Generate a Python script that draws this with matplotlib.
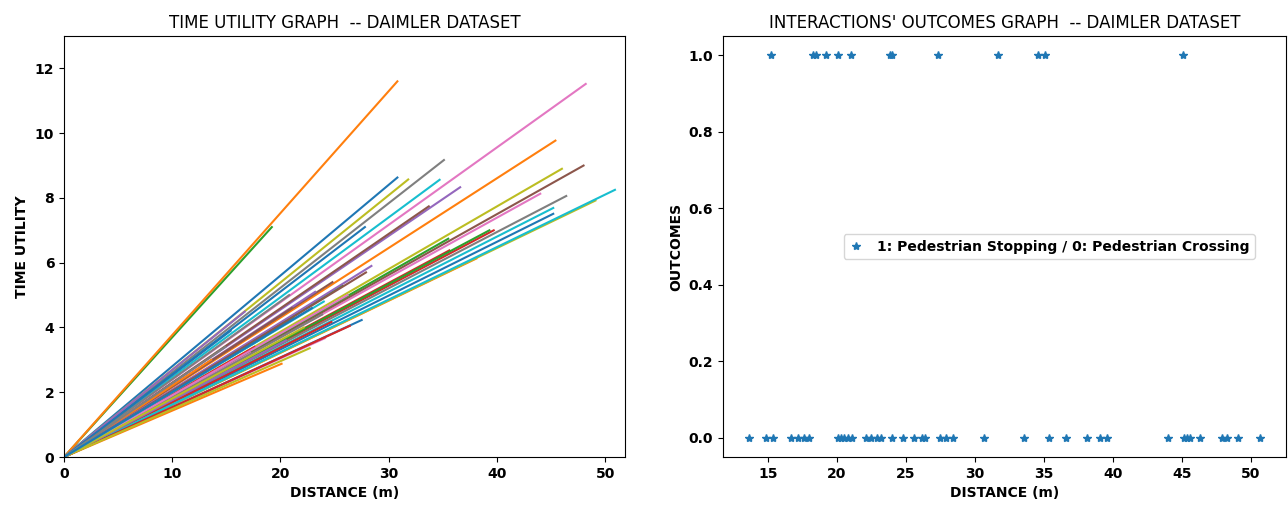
import matplotlib
matplotlib.use("Agg")
import matplotlib.pyplot as plt

# left panel: one line per interaction, from origin to (distance, time utility)
line_distance = [
    30.8, 45.4, 19.2, 39.7, 36.6, 33.7, 48.2, 35.1, 31.8, 34.7,
    27.8, 30.8, 25.7, 35.6, 16.7, 24.8, 44.0, 46.4, 46.0, 45.2,
    45.2, 38.1, 39.3, 24.7, 23.2, 48.0, 24.1, 20.8, 49.1, 50.9,
    27.5, 20.1, 35.5, 26.4, 20.5, 21.05, 17.2, 23.85, 22.7, 18.5,
    15.4, 13.6, 21.2, 17.6, 28.4, 27.9, 26.2, 14.9, 22.15, 24.0,
    22.9,
]
line_time_utility = [
    8.63, 9.77, 7.1, 7.0, 8.33, 7.74, 11.52, 9.17, 8.57, 8.56,
    7.1, 11.6, 5.3, 6.38, 4.49, 5.4, 8.13, 8.06, 8.9, 7.69,
    7.51, 6.13, 7.0, 4.17, 5.1, 9.0, 3.67, 5.0, 7.92, 8.25,
    4.23, 2.88, 6.74, 4.05, 3.6, 4.6, 3.2, 4.4, 3.36, 3.7,
    3.9, 3.0, 4.3, 3.4, 5.9, 5.7, 5.0, 3.4, 4.0, 4.8,
    4.6,
]

# right panel: outcome per interaction (1 = stopping, 0 = crossing)
crossing_distance = [
    13.6, 14.9, 15.4, 16.7, 17.2, 17.6, 17.95, 20.1, 20.3, 20.5, 20.8, 21.1,
    22.15, 22.5, 22.9, 23.2, 24.0, 24.8, 25.6, 26.2, 26.4, 27.5, 27.9, 28.4,
    30.7, 33.6, 35.4, 36.6, 38.1, 39.1, 39.6, 44.0, 45.2, 45.4, 45.6, 46.3,
    47.9, 48.3, 49.1, 50.7,
]
stopping_distance = [
    15.2, 18.25, 18.5, 19.2, 20.1, 21.05, 23.85, 23.97, 27.35, 31.7,
    34.6, 35.1, 45.1,
]
outcome_distance = crossing_distance + stopping_distance
outcome_value = [0] * len(crossing_distance) + [1] * len(stopping_distance)

plt.rcParams["font.weight"] = "bold"

fig = plt.figure(figsize=(12.88, 5.05), dpi=100)
ax1 = fig.add_axes([0.0497, 0.095, 0.4353, 0.8337])
ax2 = fig.add_axes([0.5613, 0.095, 0.4371, 0.8337])

for d, t in zip(line_distance, line_time_utility):
    ax1.plot([0, d], [0, t], linewidth=1.5)
ax1.set_xlim(0, 51.8)
ax1.set_ylim(0, 13)
ax1.set_xticks([0, 10, 20, 30, 40, 50])
ax1.set_yticks([0, 2, 4, 6, 8, 10, 12])
ax1.set_xlabel("DISTANCE (m)", fontweight="bold")
ax1.set_ylabel("TIME UTILITY", fontweight="bold")
ax1.set_title("TIME UTILITY GRAPH  -- DAIMLER DATASET", fontweight="normal", fontsize=12)

ax2.plot(outcome_distance, outcome_value, "*", color="#1f77b4",
         label="1: Pedestrian Stopping / 0: Pedestrian Crossing")
ax2.set_xticks([15, 20, 25, 30, 35, 40, 45, 50])
ax2.set_xlabel("DISTANCE (m)", fontweight="bold")
ax2.set_ylabel("OUTCOMES", fontweight="bold")
ax2.set_title("INTERACTIONS' OUTCOMES GRAPH  -- DAIMLER DATASET", fontweight="normal", fontsize=12)
ax2.legend(loc="center right", bbox_to_anchor=(0.945, 0.5), borderaxespad=0,
           handlelength=1.0, handletextpad=1.0)

fig.savefig("out.png", dpi=100)
